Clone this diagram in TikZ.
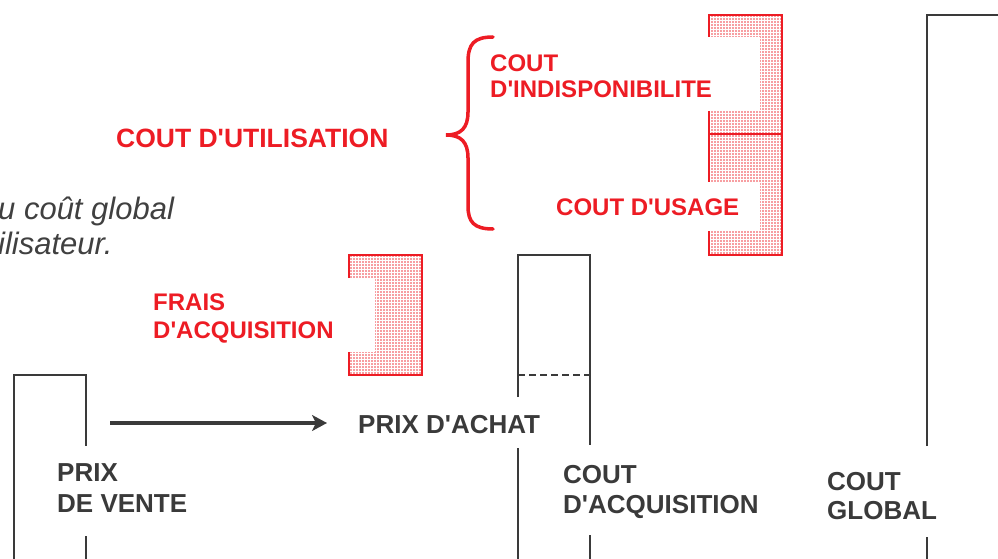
\documentclass[tikz,border=0pt]{standalone}
\usepackage{fontspec}
\setmainfont{Liberation Sans}[Ligatures=TeXOff]
\usetikzlibrary{arrows.meta,patterns.meta}
\definecolor{ink}{RGB}{58,58,58}
\definecolor{rouge}{RGB}{237,28,36}
\definecolor{grisit}{RGB}{64,64,64}
\tikzdeclarepattern{
  name=reddots, type=uncolored,
  bottom left={(0pt,0pt)}, top right={(2.8pt,2.8pt)},
  tile size={(2.8pt,2.8pt)},
  code={\fill (0.4pt,0.4pt) rectangle (1.6pt,1.6pt);}}
\tikzset{
  bar/.style={draw=ink, line width=2pt},
  dashline/.style={draw=ink, line width=1.5pt, dash pattern=on 7pt off 4pt},
  lbl/.style={anchor=base west, inner sep=0pt, text=ink, font=\fontsize{26}{30}\selectfont\bfseries},
  rlbl/.style={anchor=base west, inner sep=0pt, text=rouge, font=\fontsize{24}{28}\selectfont\bfseries},
  rlblbig/.style={rlbl, font=\fontsize{26.5}{30}\selectfont\bfseries},
  itlbl/.style={anchor=base west, inner sep=0pt, text=grisit, font=\fontsize{31}{34}\selectfont\itshape},
  dotfill/.style={pattern={reddots}, pattern color=rouge},
  redline/.style={draw=rouge, line width=2.5pt, line join=miter},
  brace/.style={draw=rouge, line width=3.5pt, line cap=round},
  arrowline/.style={draw=ink, line width=4.5pt, -{Stealth[length=15pt,width=16pt,inset=4pt]}}
}
\begin{document}
\begin{tikzpicture}[x=1pt,y=-1pt]
\useasboundingbox (0,0) rectangle (998,559);

% italic clipped text
\node[itlbl] (it1) at (-2,219) {u coût global};
\node[itlbl] (it2) at (-2,254) {ilisateur.};

% bar 1 : prix de vente
\draw[bar] (14,559) -- (14,375) -- (86,375) -- (86,446);
\draw[bar] (86,536) -- (86,559);
\node[lbl] (pv1) at (57,481) {PRIX};
\node[lbl] (pv2) at (57,512) {DE VENTE};

% arrow
\coordinate (arrS) at (110,423);
\coordinate (arrE) at (327,423);
\draw[arrowline] (arrS) -- (arrE);
\node[lbl] (achat) at (358,433) {PRIX D'ACHAT};

% bar 2 : cout d'acquisition
\draw[bar] (518,397) -- (518,255) -- (590,255) -- (590,445);
\draw[bar] (518,448) -- (518,559);
\draw[bar] (590,535) -- (590,559);
\draw[dashline] (518,375) -- (590,375);
\node[lbl] (ca1) at (563,483) {COUT};
\node[lbl] (ca2) at (563,513) {D'ACQUISITION};

% bar 3 : cout global
\draw[bar] (927,446) -- (927,15) -- (1000,15);
\draw[bar] (927,537) -- (927,559);
\node[lbl] (cg1) at (827,490) {COUT};
\node[lbl] (cg2) at (827,519) {GLOBAL};

% frais d'acquisition block
\fill[dotfill] (349,255) -- (422,255) -- (422,375) -- (349,375) -- (349,352) -- (375,352) -- (375,278) -- (349,278) -- cycle;
\draw[redline] (349,278) -- (349,255) -- (422,255) -- (422,375) -- (349,375) -- (349,352);
\node[rlbl] (fr1) at (153,310) {FRAIS};
\node[rlbl] (fr2) at (153,338) {D'ACQUISITION};

% cout d'utilisation block
\fill[dotfill] (709,15) -- (782,15) -- (782,134) -- (709,134) -- (709,111) -- (760,111) -- (760,37) -- (709,37) -- cycle;
\fill[dotfill] (709,134) -- (782,134) -- (782,255) -- (709,255) -- (709,231) -- (760,231) -- (760,182) -- (709,182) -- cycle;
\draw[redline] (709,37) -- (709,15) -- (782,15) -- (782,255) -- (709,255) -- (709,231);
\draw[redline] (709,111) -- (709,182);
\draw[redline] (709,134) -- (782,134);

\node[rlbl] (ind1) at (490,72) {COUT};
\node[rlbl] (ind2) at (490,98) {D'INDISPONIBILITE};
\node[rlbl] (usage) at (556,215) {COUT D'USAGE};
\node[rlblbig] (util) at (116,147) {COUT D'UTILISATION};

% brace
\draw[brace] (493,37) .. controls (474,37) and (468,44) .. (468,62) -- (468,112)
  .. controls (468,128) and (461,135) .. (446,135)
  .. controls (461,135) and (468,142) .. (468,158) -- (468,206)
  .. controls (468,222) and (474,229) .. (493,229);
\end{tikzpicture}
\end{document}
